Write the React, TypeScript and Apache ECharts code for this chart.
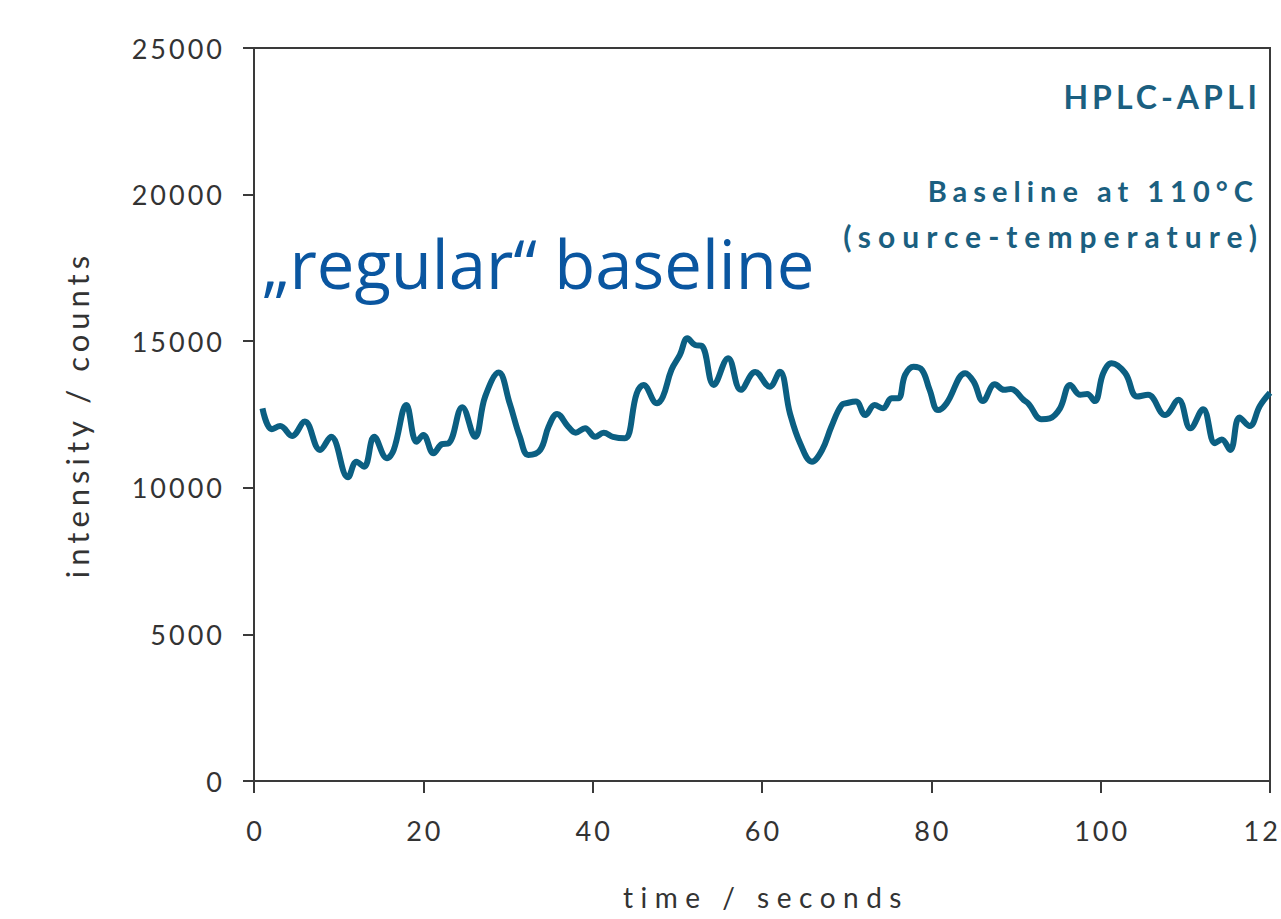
import React, { useEffect, useRef } from "react";
import * as echarts from "echarts";

// time / seconds
const timeSeconds = [
  1.0, 2.1, 3.1, 4.5, 6.0, 7.8, 9.1, 11.1, 12.1, 13.0, 14.2, 15.7, 16.5, 18.0, 19.2, 20.0,
  21.2, 22.2, 23.0, 24.6, 26.1, 27.3, 28.9, 30.2, 31.4, 32.4, 33.8, 34.8, 35.8, 37.1, 38.0,
  39.1, 40.3, 41.3, 42.4, 43.8, 45.2, 46.0, 47.6, 48.3, 49.3, 50.3, 51.2, 52.1, 52.9, 54.3,
  56.0, 57.5, 59.2, 60.9, 62.1, 63.3, 64.5, 65.9, 67.1, 68.2, 69.4, 70.2, 71.1, 72.2, 73.3,
  74.3, 75.3, 76.1, 76.9, 77.9, 78.9, 79.8, 80.8, 81.8, 84.0, 85.0, 86.1, 87.5, 88.6, 89.4, 90.9,
  91.5, 93.0, 94.0, 95.2, 96.4, 97.6, 98.4, 99.3, 100.3, 101.3, 102.9, 104.3, 105.6, 107.6,
  109.2, 110.6, 112.1, 113.5, 114.3, 115.3, 116.4, 117.6, 118.8, 120.0,
];
// intensity / counts
const intensityCounts = [
  12710, 12000, 12110, 11770, 12260, 11290, 11740, 10360, 10890, 10720, 11740, 11010, 11290, 12820, 11570, 11800,
  11180, 11490, 11520, 12750, 11740, 13110, 13930, 12880, 11740, 11120, 11290, 12090, 12520, 12090, 11880,
  12030, 11740, 11880, 11740, 11690, 13220, 13510, 12880, 13110, 14020, 14530, 15100, 14870, 14840, 13510,
  14420, 13340, 13950, 13450, 13960, 12540, 11520, 10890, 11290, 12090, 12820, 12900, 12940, 12480, 12820,
  12710, 13050, 13050, 13850, 14130, 14020, 13340, 12650, 12880, 13910, 13620, 12960, 13530, 13340, 13370, 13000,
  12860, 12340, 12370, 12710, 13510, 13170, 13200, 12960, 13910, 14250, 13910, 13110, 13170, 12480,
  13000, 12030, 12680, 11520, 11650, 11290, 12400, 12110, 12790, 13240,
];

const xAxisTitle = "time / seconds";
const yAxisTitle = "intensity / counts";
const headline = "\u201Eregular\u201C baseline";
const noteLines = ["HPLC-APLI", "Baseline at 110\u00B0C", "(source-temperature)"];

const css = `
#chart svg text[style*="27px"] { letter-spacing: 3px; }
#chart svg text[style*="28px"] { letter-spacing: 7.5px; }
#chart svg text[style*="31px"] { letter-spacing: 5px; }
#chart svg text[style*="32px"] { letter-spacing: 4px; }
#chart svg text[style*="29px"] { letter-spacing: 6px; }
#chart svg text[style*="30px"] { letter-spacing: 7px; }
`;

export default function App() {
  const ref = useRef<HTMLDivElement>(null);
  useEffect(() => {
    document.body.style.margin = "0";
    const chart = echarts.init(ref.current!, null, { renderer: "svg" });
    const axisColor = "#3a3a3a";
    const textColor = "#333333";
    const noteColor = "#1b5f80";
    chart.setOption({
      animation: false,
      grid: {
        left: 254,
        top: 48,
        right: 11,
        bottom: 138,
        show: true,
        borderColor: axisColor,
        borderWidth: 2,
        backgroundColor: "transparent",
        containLabel: false,
        outerBoundsMode: "none",
      },
      xAxis: {
        type: "value",
        min: 0,
        max: 120,
        interval: 20,
        name: xAxisTitle,
        nameLocation: "middle",
        nameGap: 102,
        nameTextStyle: { fontSize: 28, color: textColor, fontFamily: "Lato", padding: [0, 0, 0, 8] },
        axisLine: { show: true, lineStyle: { color: axisColor, width: 2 } },
        axisTick: { show: true, inside: false, length: 12, lineStyle: { color: axisColor, width: 2 } },
        splitLine: { show: false },
        axisLabel: {
          margin: 36,
          fontSize: 27,
          color: textColor,
          fontFamily: "Lato",
          formatter: (v: number) => String(v),
          padding: [0, 0, 0, 3],
        },
      },
      yAxis: {
        type: "value",
        min: 0,
        max: 25000,
        interval: 5000,
        name: yAxisTitle,
        nameLocation: "middle",
        nameGap: 162,
        nameTextStyle: { fontSize: 31, color: textColor, fontFamily: "Lato" },
        axisLine: { show: true, lineStyle: { color: axisColor, width: 2 } },
        axisTick: { show: true, inside: false, length: 11, lineStyle: { color: axisColor, width: 2 } },
        splitLine: { show: false },
        axisLabel: {
          margin: 29,
          fontSize: 27,
          color: textColor,
          fontFamily: "Lato",
          formatter: (v: number) => String(v),
        },
      },
      series: [
        {
          type: "line",
          data: timeSeconds.map((t, i) => [t, intensityCounts[i]]),
          smooth: 0.4,
          showSymbol: false,
          lineStyle: { color: "#0b5f82", width: 6 },
        },
      ],
      graphic: [
        {
          type: "text",
          x: 262,
          y: 263,
          style: {
            text: headline,
            fill: "#0a56a0",
            font: "67px 'Open Sans'",
            textAlign: "left",
            textVerticalAlign: "middle",
          },
        },
        {
          type: "text",
          x: 1261,
          y: 96,
          style: {
            text: noteLines[0],
            fill: noteColor,
            font: "bold 32px Lato",
            textAlign: "right",
            textVerticalAlign: "middle",
          },
        },
        {
          type: "text",
          x: 1259,
          y: 190,
          style: {
            text: noteLines[1],
            fill: noteColor,
            font: "bold 29px Lato",
            textAlign: "right",
            textVerticalAlign: "middle",
          },
        },
        {
          type: "text",
          x: 1264,
          y: 236,
          style: {
            text: noteLines[2],
            fill: noteColor,
            font: "bold 30px Lato",
            textAlign: "right",
            textVerticalAlign: "middle",
          },
        },
      ],
    });
    return () => chart.dispose();
  }, []);
  return (
    <>
      <style>{css}</style>
      <div ref={ref} id="chart" style={{ width: 1281, height: 919 }} />
    </>
  );
}
